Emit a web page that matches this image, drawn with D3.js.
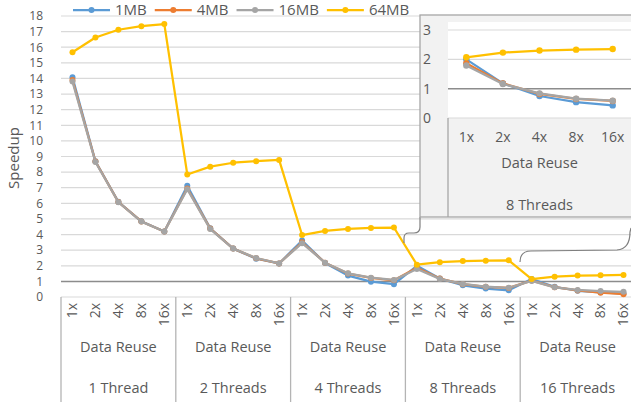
<!DOCTYPE html>
<html><head><meta charset="utf-8">
<script src="https://cdn.jsdelivr.net/npm/d3@7/dist/d3.min.js"></script>
<style>body{margin:0;background:#fff}svg{display:block;font-family:"Open Sans",sans-serif}</style>
</head><body><svg id="c" width="631" height="402"></svg>
<script>
const threads = ["1 Thread","2 Threads","4 Threads","8 Threads","16 Threads"];
const reuse = ["1x","2x","4x","8x","16x"];
const seriesNames = ["1MB","4MB","16MB","64MB"];
const colors = ["#5B9BD5","#ED7D31","#A5A5A5","#FFC000"];
const s1MB  = [14.08,8.7,6.1,4.85,4.2, 7.12,4.4,3.1,2.45,2.15, 3.62,2.18,1.37,0.98,0.82, 2.0,1.18,0.75,0.54,0.43, 1.15,0.65,0.4,0.3,0.22];
const s4MB  = [13.9,8.68,6.08,4.84,4.19, 6.95,4.38,3.1,2.48,2.15, 3.5,2.2,1.5,1.22,1.07, 1.87,1.18,0.82,0.65,0.58, 1.05,0.63,0.42,0.28,0.18];
const s16MB = [13.8,8.65,6.07,4.83,4.19, 6.9,4.35,3.1,2.5,2.15, 3.45,2.2,1.52,1.24,1.09, 1.79,1.16,0.84,0.66,0.59, 1.03,0.62,0.45,0.38,0.33];
const s64MB = [15.68,16.62,17.12,17.35,17.48, 7.85,8.35,8.6,8.7,8.78, 3.97,4.23,4.36,4.42,4.45, 2.07,2.23,2.3,2.33,2.35, 1.15,1.3,1.37,1.39,1.41];
const yTicks = d3.range(0,19);
const insetTicks = [0,1,2,3];
const insetGroup = 3;

const series = [s1MB,s4MB,s16MB,s64MB];
const svg = d3.select("#c");
const txt = "#595959";

// categories
const cats = [];
threads.forEach((t,gi)=>reuse.forEach((r,ri)=>cats.push(gi+"|"+ri)));

const x = d3.scaleBand().domain(cats).range([61,635]);
const y = d3.scaleLinear().domain([0,18]).range([297,16]);
const gx = d3.scaleBand().domain(threads).range([61,635]);

// gridlines
svg.append("g").selectAll("line").data(yTicks).join("line")
  .attr("x1",61).attr("x2",635).attr("y1",d=>y(d)).attr("y2",d=>y(d))
  .attr("stroke",d=>d===1?"#8c8c8c":"#d9d9d9").attr("stroke-width",d=>d===1?1.5:1.2);

// y tick labels
svg.append("g").selectAll("text").data(yTicks).join("text")
  .attr("x",43).attr("y",d=>y(d)).attr("dy","0.36em").attr("text-anchor","end")
  .attr("font-size",12).attr("fill",txt).text(d=>d);

// y label
svg.append("text").attr("transform","translate(19,158) rotate(-90)")
  .attr("text-anchor","middle").attr("font-size",15).attr("fill",txt).text("Speedup");

// category axis separators
const bounds = threads.map(t=>gx(t)).concat([635]);
svg.append("g").selectAll("line").data(bounds).join("line")
  .attr("x1",d=>d).attr("x2",d=>d).attr("y1",297).attr("y2",402)
  .attr("stroke","#b4b4b4").attr("stroke-width",1.3);

// rotated reuse labels
svg.append("g").selectAll("text").data(cats).join("text")
  .attr("transform",d=>`translate(${x(d)+x.bandwidth()/2},303) rotate(-90)`)
  .attr("text-anchor","end").attr("dy","0.35em").attr("font-size",14).attr("fill",txt)
  .text(d=>reuse[+d.split("|")[1]]);

svg.append("g").selectAll("text").data(threads).join("text")
  .attr("x",d=>gx(d)+gx.bandwidth()/2).attr("y",347).attr("dy","0.35em")
  .attr("text-anchor","middle").attr("font-size",14.5).attr("fill",txt).text("Data Reuse");
svg.append("g").selectAll("text").data(threads).join("text")
  .attr("x",d=>gx(d)+gx.bandwidth()/2).attr("y",388).attr("dy","0.35em")
  .attr("text-anchor","middle").attr("font-size",14.5).attr("fill",txt).text(d=>d);

// series
const line = d3.line().x((d,i)=>x(cats[i])+x.bandwidth()/2).y(d=>y(d));
series.forEach((s,si)=>{
  svg.append("path").datum(s).attr("d",line).attr("fill","none")
    .attr("stroke",colors[si]).attr("stroke-width",2.25).attr("stroke-linejoin","round");
  svg.append("g").selectAll("circle").data(s).join("circle")
    .attr("cx",(d,i)=>x(cats[i])+x.bandwidth()/2).attr("cy",d=>y(d)).attr("r",3)
    .attr("fill",colors[si]);
});

// legend
let lx = 73;
const leg = svg.append("g");
seriesNames.forEach((n,i)=>{
  leg.append("line").attr("x1",lx).attr("x2",lx+37).attr("y1",10).attr("y2",10)
    .attr("stroke",colors[i]).attr("stroke-width",2.25);
  leg.append("circle").attr("cx",lx+18.5).attr("cy",10).attr("r",3).attr("fill",colors[i]);
  const t = leg.append("text").attr("x",lx+42).attr("y",10).attr("dy","0.36em")
    .attr("font-size",15).attr("fill",txt).text(n);
  lx = lx+42+t.node().getComputedTextLength()+8;
});

// callout connectors
svg.append("path")
  .attr("d","M420,217 L420,227 Q420,233 414,233 L409,233 Q404,233 404,238 L404,243")
  .attr("fill","none").attr("stroke","#7f7f7f").attr("stroke-width",1.2);
svg.append("path")
  .attr("d","M520,262 Q520,251 531,251 L617,250 Q630,249 630,232 L631,228")
  .attr("fill","none").attr("stroke","#7f7f7f").attr("stroke-width",1.2);

// inset
const ins = svg.append("g");
ins.append("rect").attr("x",420).attr("y",15).attr("width",230).attr("height",202)
  .attr("fill","#f2f2f2").attr("stroke","#a6a6a6").attr("stroke-width",1.3);
const iy = d3.scaleLinear().domain([0,3]).range([118,30]);
const ix = d3.scaleBand().domain(reuse).range([448,631]);
ins.append("rect").attr("x",448).attr("y",22).attr("width",190).attr("height",96).attr("fill","#ffffff");
ins.append("g").selectAll("line").data(insetTicks).join("line")
  .attr("x1",448).attr("x2",640).attr("y1",d=>iy(d)).attr("y2",d=>iy(d))
  .attr("stroke",d=>d===1?"#8c8c8c":"#d9d9d9").attr("stroke-width",d=>d===1?1.5:1.2);
ins.append("line").attr("x1",448).attr("x2",448).attr("y1",118).attr("y2",217)
  .attr("stroke","#a6a6a6").attr("stroke-width",1.3);
ins.append("g").selectAll("text").data(insetTicks).join("text")
  .attr("x",431).attr("y",d=>iy(d)).attr("dy","0.36em").attr("text-anchor","end")
  .attr("font-size",14).attr("fill",txt).text(d=>d);
ins.append("g").selectAll("text").data(reuse).join("text")
  .attr("x",d=>ix(d)+ix.bandwidth()/2).attr("y",137).attr("dy","0.35em")
  .attr("text-anchor","middle").attr("font-size",14).attr("fill",txt).text(d=>d);
ins.append("text").attr("x",539.5).attr("y",163).attr("dy","0.35em").attr("text-anchor","middle")
  .attr("font-size",14.5).attr("fill",txt).text("Data Reuse");
ins.append("text").attr("x",539.5).attr("y",205).attr("dy","0.35em").attr("text-anchor","middle")
  .attr("font-size",14.5).attr("fill",txt).text(threads[insetGroup]);
const iline = d3.line().x((d,i)=>ix(reuse[i])+ix.bandwidth()/2).y(d=>iy(d));
series.forEach((s,si)=>{
  const sub = s.slice(insetGroup*5, insetGroup*5+5);
  ins.append("path").datum(sub).attr("d",iline).attr("fill","none")
    .attr("stroke",colors[si]).attr("stroke-width",2.25).attr("stroke-linejoin","round");
  ins.append("g").selectAll("circle").data(sub).join("circle")
    .attr("cx",(d,i)=>ix(reuse[i])+ix.bandwidth()/2).attr("cy",d=>iy(d)).attr("r",3.2)
    .attr("fill",colors[si]);
});
</script></body></html>
